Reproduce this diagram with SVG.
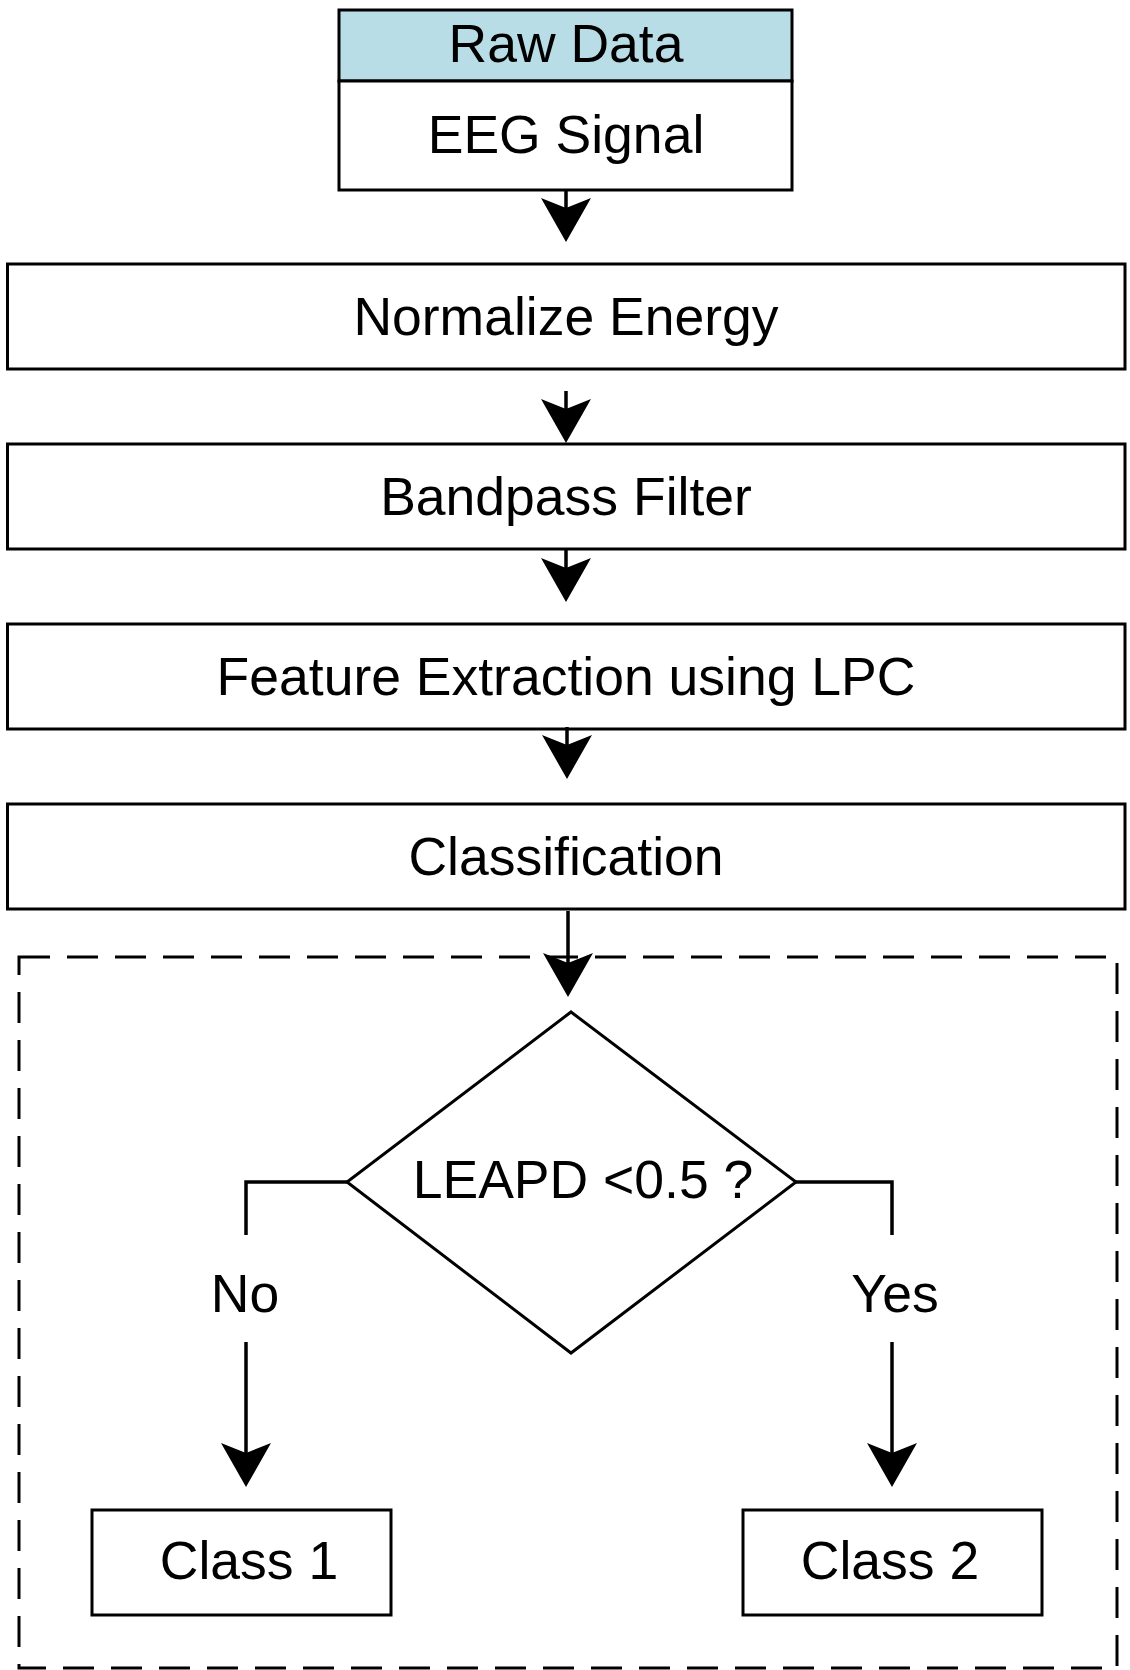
<svg xmlns="http://www.w3.org/2000/svg" width="1130" height="1670" viewBox="0 0 1130 1670">
<defs>
<style>
.box{fill:#ffffff;stroke:#000000;stroke-width:3}
.hdr{fill:#b8dde6;stroke:#000000;stroke-width:3}
.t{font-family:"Liberation Sans",Arial,sans-serif;font-size:53.5px;fill:#000000;text-anchor:middle}
.c{fill:none;stroke:#000000;stroke-width:3.5}
.dash{fill:none;stroke:#000000;stroke-width:3;stroke-dasharray:31 17}
</style>
<marker id="arr" markerUnits="userSpaceOnUse" viewBox="0 0 44 50" markerWidth="44" markerHeight="50" refX="10" refY="25" orient="auto" overflow="visible">
<path d="M0,0 L44,25 L0,50 L10,25 Z" fill="#000000"/>
</marker>
</defs>
<rect width="1130" height="1670" fill="#ffffff"/>
<g id="container">
<rect class="dash" x="19" y="957" width="1098" height="711"/>
</g>
<g id="raw-data">
<rect class="hdr" x="339" y="10" width="453" height="71"/>
<rect class="box" x="339" y="81" width="453" height="109"/>
<text class="t" x="566" y="62">Raw Data</text>
<text class="t" x="566" y="153">EEG Signal</text>
</g>
<g id="normalize">
<rect class="box" x="7.5" y="264" width="1117.5" height="105"/>
<text class="t" x="566" y="335">Normalize Energy</text>
</g>
<g id="bandpass">
<rect class="box" x="7.5" y="444" width="1117.5" height="105"/>
<text class="t" x="566" y="515">Bandpass Filter</text>
</g>
<g id="feature">
<rect class="box" x="7.5" y="624" width="1117.5" height="105"/>
<text class="t" x="566" y="695">Feature Extraction using LPC</text>
</g>
<g id="classification">
<rect class="box" x="7.5" y="804" width="1117.5" height="105"/>
<text class="t" x="566" y="875">Classification</text>
</g>
<g id="decision">
<polygon class="box" points="571,1012 796,1182 571,1353 347,1182"/>
<text class="t" x="583" y="1198">LEAPD &lt;0.5 ?</text>
</g>
<g id="class1">
<rect class="box" x="92" y="1510" width="299" height="105"/>
<text class="t" x="249" y="1579">Class 1</text>
</g>
<g id="class2">
<rect class="box" x="743" y="1510" width="299" height="105"/>
<text class="t" x="890" y="1579">Class 2</text>
</g>
<g id="connectors">
<line class="c" x1="566" y1="190" x2="566" y2="208" marker-end="url(#arr)"/>
<line class="c" x1="566" y1="391" x2="566" y2="409" marker-end="url(#arr)"/>
<line class="c" x1="566" y1="549" x2="566" y2="568" marker-end="url(#arr)"/>
<line class="c" x1="567" y1="727" x2="567" y2="745" marker-end="url(#arr)"/>
<line class="c" x1="568" y1="911" x2="568" y2="963" marker-end="url(#arr)"/>
<polyline class="c" points="347,1182 246,1182 246,1235"/>
<polyline class="c" points="796,1182 892,1182 892,1235"/>
<line class="c" x1="246" y1="1342" x2="246" y2="1453" marker-end="url(#arr)"/>
<line class="c" x1="892" y1="1342" x2="892" y2="1453" marker-end="url(#arr)"/>
<text class="t" x="245" y="1312">No</text>
<text class="t" x="895" y="1312">Yes</text>
</g>
</svg>
